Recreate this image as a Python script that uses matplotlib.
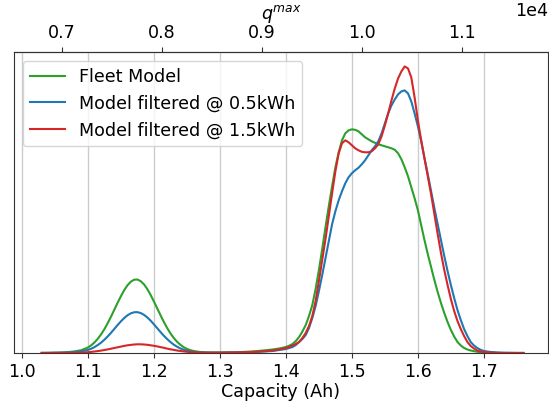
import matplotlib
matplotlib.use("Agg")
import matplotlib.pyplot as plt
import numpy as np

# capacity grid (Ah): finer steps around the two peaks
capacity = np.concatenate([
    np.linspace(1.03, 1.09, 7),
    np.linspace(1.10, 1.26, 33),
    np.linspace(1.27, 1.39, 13),
    np.linspace(1.40, 1.70, 61),
    np.linspace(1.71, 1.76, 6),
])

# density curves (arbitrary units) on the grid above
fleet_model = [
    0.1, 0.2, 0.3, 0.5, 0.9, 1.6, 2.8,
    5.5, 7.7, 10.6, 14.3, 18.7, 23.9, 29.9, 36.4, 43.3, 50.3,
    56.9, 62.9, 67.9, 71.4, 73.4, 73.6, 71.9, 68.7, 64.0, 58.2,
    51.6, 44.7, 37.8, 31.2, 25.1, 19.7, 15.1, 11.3, 8.3, 5.9,
    4.1, 2.9, 2.0,
    1.0, 0.6, 0.5, 0.5, 0.6, 0.7, 0.9, 1.2, 1.6, 2.1, 2.8, 3.5, 4.5,
    6, 7.3, 9, 12, 16, 21.5, 28, 37, 48, 64,
    83, 104, 126, 147, 167, 186, 201, 213, 220, 223,
    224, 223.5, 222, 219, 216, 214, 212, 210.5, 209, 208,
    207, 206, 205, 203.5, 200, 194, 186, 177, 166, 155,
    143, 128, 113, 99, 86, 73, 61, 50, 40, 31,
    23, 16.5, 11, 7.5, 5, 3.5, 2.5, 1.8, 1.2, 0.9,
    0.6,
    0.3, 0.1, 0.0, 0.0, 0.0, 0.0,
]
filtered_05 = [
    0.1, 0.1, 0.2, 0.3, 0.5, 0.9, 1.6,
    3.1, 4.3, 5.9, 8.0, 10.4, 13.3, 16.6, 20.2, 24.1, 28.0,
    31.7, 35.0, 37.8, 39.7, 40.8, 40.9, 40.0, 38.2, 35.6, 32.4,
    28.7, 24.9, 21.0, 17.3, 14.0, 11.0, 8.4, 6.3, 4.6, 3.3,
    2.3, 1.6, 1.1,
    0.6, 0.3, 0.3, 0.3, 0.4, 0.5, 0.6, 0.8, 1.0, 1.3, 1.6, 2.0, 3.0,
    4, 5, 6, 8, 11, 14, 18, 25, 35, 47,
    62, 78, 95, 112, 129, 142, 153, 162, 170, 176,
    180, 183, 185.5, 189, 193, 198, 203, 207, 212, 220,
    230, 240, 248, 254, 259, 262, 263, 260, 252, 240,
    227, 212, 195, 179, 162, 145, 129, 113, 97, 82,
    68, 55, 43, 33, 24, 17, 11, 7.5, 5, 3.2,
    2,
    1.0, 0.5, 0.3, 0.2, 0.1, 0.05,
]
filtered_15 = [
    0.0, 0.0, 0.1, 0.1, 0.1, 0.2, 0.4,
    0.8, 1.1, 1.5, 1.9, 2.4, 3.0, 3.6, 4.3, 5.0, 5.7,
    6.4, 7.1, 7.7, 8.1, 8.5, 8.7, 8.7, 8.5, 8.2, 7.7,
    7.2, 6.6, 5.9, 5.2, 4.4, 3.7, 3.1, 2.5, 2.0, 1.6,
    1.2, 0.9, 0.7,
    0.4, 0.3, 0.3, 0.3, 0.4, 0.5, 0.6, 0.8, 1.0, 1.4, 1.9, 2.5, 3.5,
    5, 6, 7.5, 9, 11, 15, 20, 27, 37, 52,
    72, 93, 114, 137, 160, 182, 200, 210, 213, 211,
    208, 205, 203, 201.5, 201, 201, 202, 205, 209, 217,
    228, 240, 253, 265, 275, 282, 287, 285, 276, 256,
    233, 213, 195, 177, 159, 139, 119, 100, 83, 68,
    54, 42, 32, 24, 17, 11, 7, 4.5, 2.5, 1.5,
    1,
    0.4, 0.1, 0.0, 0.0, 0.0, 0.0,
]

series = [
    ("Fleet Model", fleet_model, "tab:green"),
    ("Model filtered @ 0.5kWh", filtered_05, "tab:blue"),
    ("Model filtered @ 1.5kWh", filtered_15, "tab:red"),
]

cap_ticks = [1.0, 1.1, 1.2, 1.3, 1.4, 1.5, 1.6, 1.7]
qmax_ticks = [7000, 8000, 9000, 10000, 11000]
AH_TO_Q = 6600.0

plt.rcParams["font.size"] = 12.6

fig = plt.figure(figsize=(5.49, 4.07), dpi=100)
ax = fig.add_axes([0.0255, 0.1327, 0.9725, 0.7393])

ymax = 0
for label, dens, color in series:
    dens = np.array(dens) / 30.0
    ymax = max(ymax, dens.max())
    ax.plot(capacity, dens, color=color, lw=1.5, label=label)

ax.set_xlim(0.988, 1.797)
ax.set_ylim(0, ymax * 1.05)
ax.set_yticks([])
ax.set_xticks(cap_ticks)
ax.grid(axis="x", color="#cccccc", lw=1.0)
ax.set_axisbelow(True)
ax.set_xlabel("Capacity (Ah)", labelpad=2)
for sp in ax.spines.values():
    sp.set_color("#333333")
ax.tick_params(colors="#333333", labelcolor="black")

top = ax.secondary_xaxis("top", functions=(lambda c: c * AH_TO_Q, lambda q: q / AH_TO_Q))
top.set_xticks(qmax_ticks)
top.ticklabel_format(style="sci", scilimits=(0, 0))
top.set_xlabel("$q^{max}$", labelpad=4)
top.tick_params(colors="#333333", labelcolor="black")

ax.legend(loc="upper left")

fig.savefig("out.png", dpi=100)
